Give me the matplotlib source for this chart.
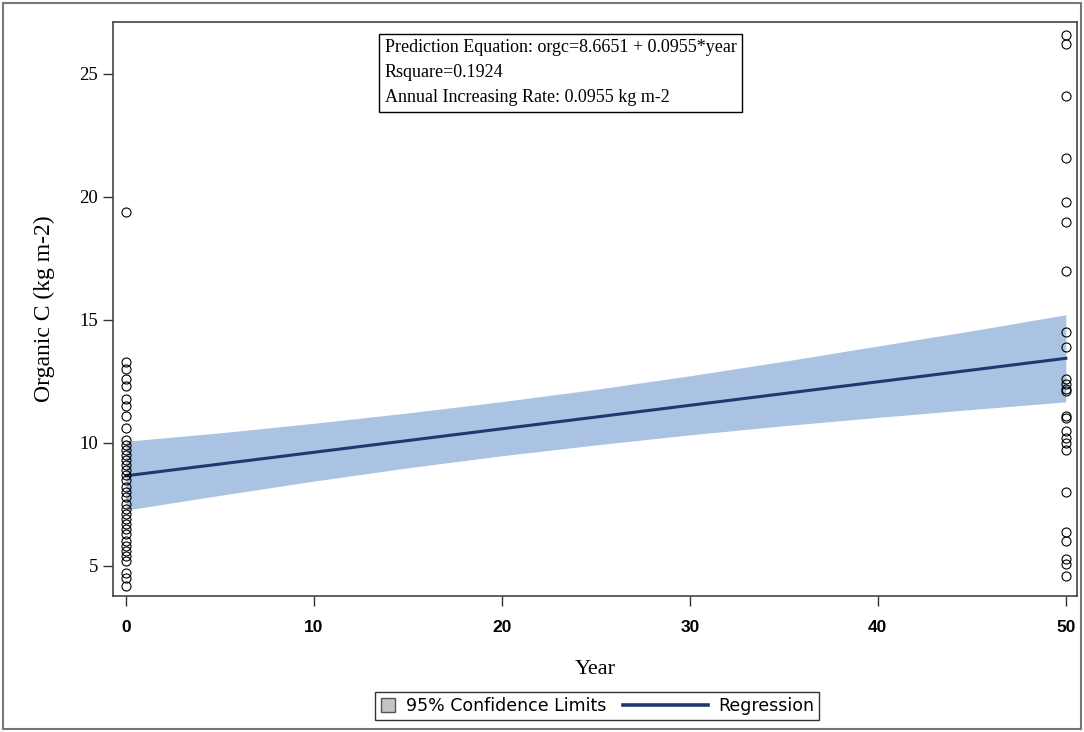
import matplotlib
matplotlib.use("Agg")
import matplotlib.pyplot as plt
from matplotlib.patches import Patch, Rectangle
from matplotlib.legend_handler import HandlerPatch, HandlerLine2D
from matplotlib.lines import Line2D
import numpy as np

# ── data ─────────────────────────────────────────────────────────

orgc_year0 = [19.4, 13.3, 13.0, 12.6, 12.3, 11.8, 11.5, 11.1, 10.6, 10.1,
              9.9, 9.7, 9.5, 9.3, 9.1, 8.9, 8.7, 8.5, 8.2, 8.0,
              7.8, 7.5, 7.3, 7.1, 6.9, 6.7, 6.5, 6.3, 6.0, 5.8,
              5.6, 5.4, 5.2, 4.7, 4.5, 4.2]
orgc_year50 = [26.6, 26.2, 24.1, 21.6, 19.8, 19.0, 17.0, 14.5, 13.9, 12.6,
               12.4, 12.2, 12.1, 11.1, 11.0, 10.5, 10.2, 10.0, 9.7, 8.0,
               6.4, 6.0, 5.3, 5.1, 4.6]

intercept = 8.6651
slope = 0.0955
rsquare = 0.1924

band_years = [0, 5, 10, 15, 20, 25, 30, 35, 40, 45, 50]
band_lower = [7.27, 7.87, 8.45, 8.99, 9.48, 9.92, 10.33, 10.70, 11.04, 11.36, 11.67]
band_upper = [10.07, 10.41, 10.80, 11.22, 11.68, 12.18, 12.73, 13.32, 13.94, 14.56, 15.21]

x_ticks = [0, 10, 20, 30, 40, 50]
y_ticks = [5, 10, 15, 20, 25]

# ── plot ─────────────────────────────────────────────────────────

SERIF = "Liberation Serif"
BAND = "#aac3e3"
NAVY = "#1d3a70"
LEG_FS = 12.5


def square_patch(legend, orig_handle, xdescent, ydescent, width, height, fontsize):
    # small square swatch filling the (short) handle box
    side = height
    return Rectangle((-xdescent, -ydescent), side, side)


class LongLine(HandlerLine2D):
    # regression swatch: a line that reaches back into the column gap
    def create_artists(self, legend, orig_handle, xdescent, ydescent, width,
                       height, fontsize, trans):
        y = height / 2 - ydescent
        ln = Line2D([-xdescent - 4.0 * fontsize, -xdescent + width], [y, y],
                    color=orig_handle.get_color(), linewidth=orig_handle.get_linewidth())
        ln.set_transform(trans)
        return [ln]


fig = plt.figure(figsize=(10.84, 7.32), dpi=100)
ax = fig.add_axes([0.1042, 0.1858, 0.8893, 0.7842])

ax.fill_between(band_years, band_lower, band_upper, color=BAND, linewidth=0, zorder=1)
yr = np.array(band_years, dtype=float)
ax.plot(yr, intercept + slope * yr, color=NAVY, linewidth=2.2, zorder=3)

ax.plot([0] * len(orgc_year0), orgc_year0, linestyle="none", marker="o",
        markersize=6.5, markerfacecolor="none", markeredgecolor="black",
        markeredgewidth=0.8, zorder=4)
ax.plot([50] * len(orgc_year50), orgc_year50, linestyle="none", marker="o",
        markersize=6.5, markerfacecolor="none", markeredgecolor="black",
        markeredgewidth=0.8, zorder=4)

ax.set_xlim(-0.69, 50.59)
ax.set_ylim(3.78, 27.11)
ax.set_xticks(x_ticks)
ax.set_yticks(y_ticks)
ax.set_xticklabels([str(t) for t in x_ticks], fontfamily="Liberation Sans",
                   fontweight="bold", fontsize=12.5)
ax.set_yticklabels([str(t) for t in y_ticks], fontfamily=SERIF, fontsize=13.5)
ax.tick_params(axis="both", direction="out", length=7, width=1, color="#333333")
ax.tick_params(axis="x", pad=10)
for sp in ax.spines.values():
    sp.set_color("#444444")
    sp.set_linewidth(1.2)

ax.set_xlabel("Year", fontfamily=SERIF, fontsize=16, labelpad=18)
ax.set_ylabel("Organic C (kg m-2)", fontfamily=SERIF, fontsize=17, labelpad=18)

info = (f"Prediction Equation: orgc={intercept:.4f} + {slope:.4f}*year\n"
        f"Rsquare={rsquare:.4f}\n"
        f"Annual Increasing Rate: {slope:.4f} kg m-2")
fig.text(0.355, 0.9465, info, fontfamily=SERIF, fontsize=13, va="top", ha="left",
         linespacing=1.62,
         bbox=dict(boxstyle="square,pad=0.3", facecolor="white",
                   edgecolor="black", linewidth=1))

conf_handle = Patch(facecolor="#c4c4c4", edgecolor="#555555", linewidth=1)
reg_handle = Line2D([], [], color=NAVY, linewidth=2.6)
fig.legend([conf_handle, reg_handle], ["95% Confidence Limits", "Regression"],
           loc="center", bbox_to_anchor=(0.551, 0.0355), ncol=2, frameon=True,
           fancybox=False, edgecolor="black", handlelength=0.9, handleheight=0.9,
           columnspacing=5.0, borderpad=0.3, borderaxespad=0, handletextpad=0.55,
           handler_map={conf_handle: HandlerPatch(patch_func=square_patch),
                        reg_handle: LongLine()},
           prop={"family": "DejaVu Sans", "size": LEG_FS})

fig.patches.append(Rectangle((0.003, 0.004), 0.994, 0.992, transform=fig.transFigure,
                             fill=False, edgecolor="#777777", linewidth=1.5))

fig.savefig("out.png", dpi=100)
